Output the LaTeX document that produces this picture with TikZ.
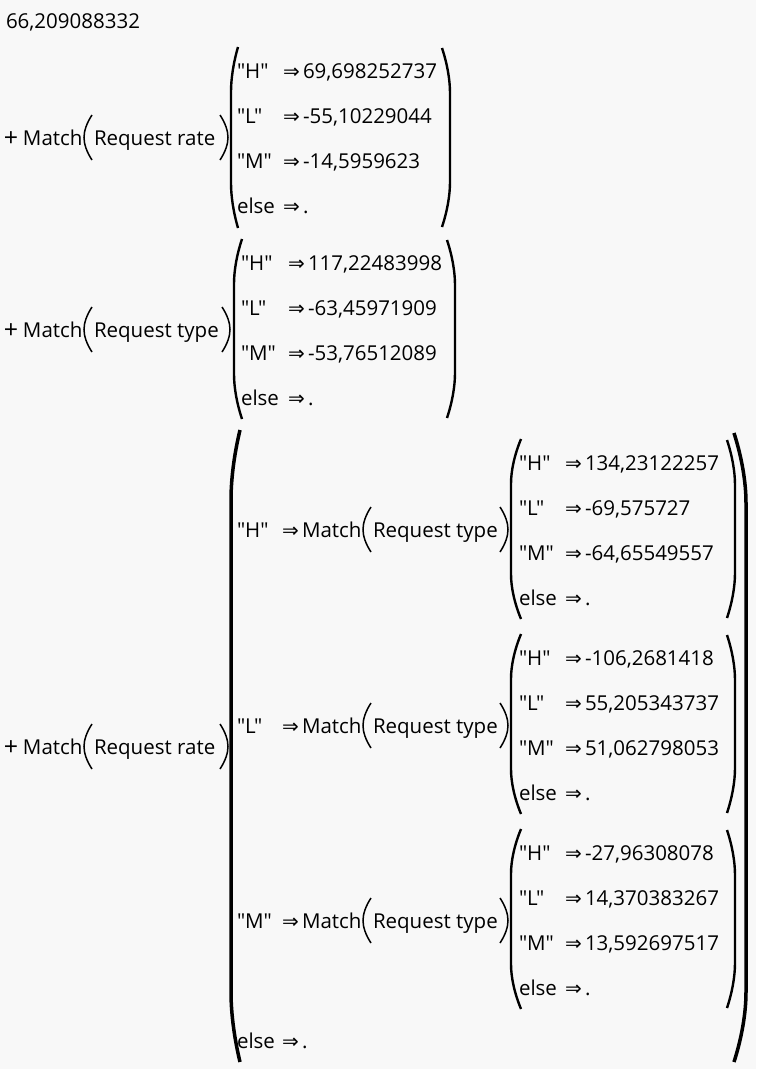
\documentclass[tikz,border=0pt]{standalone}
\usepackage{fontspec}
\setmainfont{Open Sans}[Ligatures=TeXOff]
\newfontfamily\arrowfont{DejaVu Sans}
\definecolor{bgc}{HTML}{F8F8F8}
% left parenthesis: x(leftmost), top, bottom, width, curve length, line width
\newcommand\myLP[6]{\draw[line width=#6] (#1+#4,#2) .. controls (#1+0.35*#4,#2+0.35*#5) and (#1,#2+0.7*#5) .. (#1,#2+#5) -- (#1,#3-#5) .. controls (#1,#3-0.7*#5) and (#1+0.35*#4,#3-0.35*#5) .. (#1+#4,#3);}
% right parenthesis: x(rightmost), top, bottom, width, curve length, line width
\newcommand\myRP[6]{\draw[line width=#6] (#1-#4,#2) .. controls (#1-0.35*#4,#2+0.35*#5) and (#1,#2+0.7*#5) .. (#1,#2+#5) -- (#1,#3-#5) .. controls (#1,#3-0.7*#5) and (#1-0.35*#4,#3-0.35*#5) .. (#1-#4,#3);}
% one case row: name, x label, x arrow, x value, baseline, label, value
\newcommand\cs[7]{%
  \node[txt] (#1l) at (#2,#5) {#6};
  \node[arr] (#1a) at (#3,#5) {⇒};
  \node[txt] (#1v) at (#4,#5) {#7};}
% Match head: name, x, baseline, argument, x of closing paren
\newcommand\mh[5]{%
  \node[txt] (#1m) at (#2,#3) {Match};
  \myLP{#2+61}{#3-30}{#3+15}{8}{22.5}{1.5pt}
  \node[txt] (#1r) at (#2+71,#3) {#4};
  \myRP{#5}{#3-30}{#3+15}{8}{22.5}{1.5pt}}
\begin{document}
\begin{tikzpicture}[x=1pt,y=-1pt,
  txt/.style={anchor=base west,inner sep=0pt,outer sep=0pt,font=\fontsize{20.5}{24}\selectfont},
  plus/.style={anchor=base west,inner sep=0pt,outer sep=0pt,font=\fontsize{25}{28}\selectfont},
  arr/.style={anchor=base west,inner sep=0pt,outer sep=0pt,font=\arrowfont\fontsize{20}{24}\selectfont}]
\fill[bgc] (0,0) rectangle (756,1069);
\useasboundingbox (0,0) rectangle (756,1069);

\node[txt] (n0) at (6,28) {66,209088332};

% ---- block 1
\node[plus] (p1) at (4,146) {+};
\mh{b1}{23}{145}{Request rate}{228}
\myLP{231}{47}{228}{7}{45}{2.4pt}
\cs{b1h}{237}{283}{303}{78}{"H"}{69,698252737}
\cs{b1l}{237}{283}{303}{123}{"L"}{-55,10229044}
\cs{b1m}{237}{283}{303}{168}{"M"}{-14,5959623}
\cs{b1e}{237}{283}{303}{213}{else}{.}
\myRP{450}{48}{227}{8}{45}{2.4pt}

% ---- block 2
\node[plus] (p2) at (4,338) {+};
\mh{b2}{23}{337}{Request type}{230}
\myLP{234}{239}{419}{8}{45}{2.4pt}
\cs{b2h}{241}{288}{308}{270}{"H"}{117,22483998}
\cs{b2l}{241}{288}{308}{315}{"L"}{-63,45971909}
\cs{b2m}{241}{288}{308}{360}{"M"}{-53,76512089}
\cs{b2e}{241}{288}{308}{405}{else}{.}
\myRP{455}{240}{418}{8}{45}{2.4pt}

% ---- block 3
\node[plus] (p3) at (4,755) {+};
\mh{b3}{23}{754}{Request rate}{228}
\myLP{231}{430}{1062}{9}{70}{3.5pt}

% sub H
\node[txt] (sHl) at (237,537) {"H"};
\node[arr] (sHa) at (282,537) {⇒};
\mh{sH}{302}{537}{Request type}{508}
\myLP{511}{439}{619}{10}{45}{2.4pt}
\cs{sHh}{519}{565}{585}{470}{"H"}{134,23122257}
\cs{sHl}{519}{565}{585}{515}{"L"}{-69,575727}
\cs{sHm}{519}{565}{585}{560}{"M"}{-64,65549557}
\cs{sHe}{519}{565}{585}{605}{else}{.}
\myRP{735}{440}{618}{8}{45}{2.4pt}

% sub L
\node[txt] (sLl) at (237,733) {"L"};
\node[arr] (sLa) at (282,733) {⇒};
\mh{sL}{302}{733}{Request type}{508}
\myLP{511}{634}{814}{10}{45}{2.4pt}
\cs{sLh}{519}{565}{585}{665}{"H"}{-106,2681418}
\cs{sLl}{519}{565}{585}{710}{"L"}{55,205343737}
\cs{sLm}{519}{565}{585}{755}{"M"}{51,062798053}
\cs{sLe}{519}{565}{585}{800}{else}{.}
\myRP{735}{635}{813}{8}{45}{2.4pt}

% sub M
\node[txt] (sMl) at (237,928) {"M"};
\node[arr] (sMa) at (282,928) {⇒};
\mh{sM}{302}{928}{Request type}{508}
\myLP{511}{829}{1009}{10}{45}{2.4pt}
\cs{sMh}{519}{565}{585}{860}{"H"}{-27,96308078}
\cs{sMl}{519}{565}{585}{905}{"L"}{14,370383267}
\cs{sMm}{519}{565}{585}{950}{"M"}{13,592697517}
\cs{sMe}{519}{565}{585}{995}{else}{.}
\myRP{735}{830}{1008}{8}{45}{2.4pt}

% outer else
\cs{b3e}{237}{282}{302}{1048}{else}{.}
\myRP{746}{433}{1062}{12}{70}{3.5pt}
\end{tikzpicture}
\end{document}
